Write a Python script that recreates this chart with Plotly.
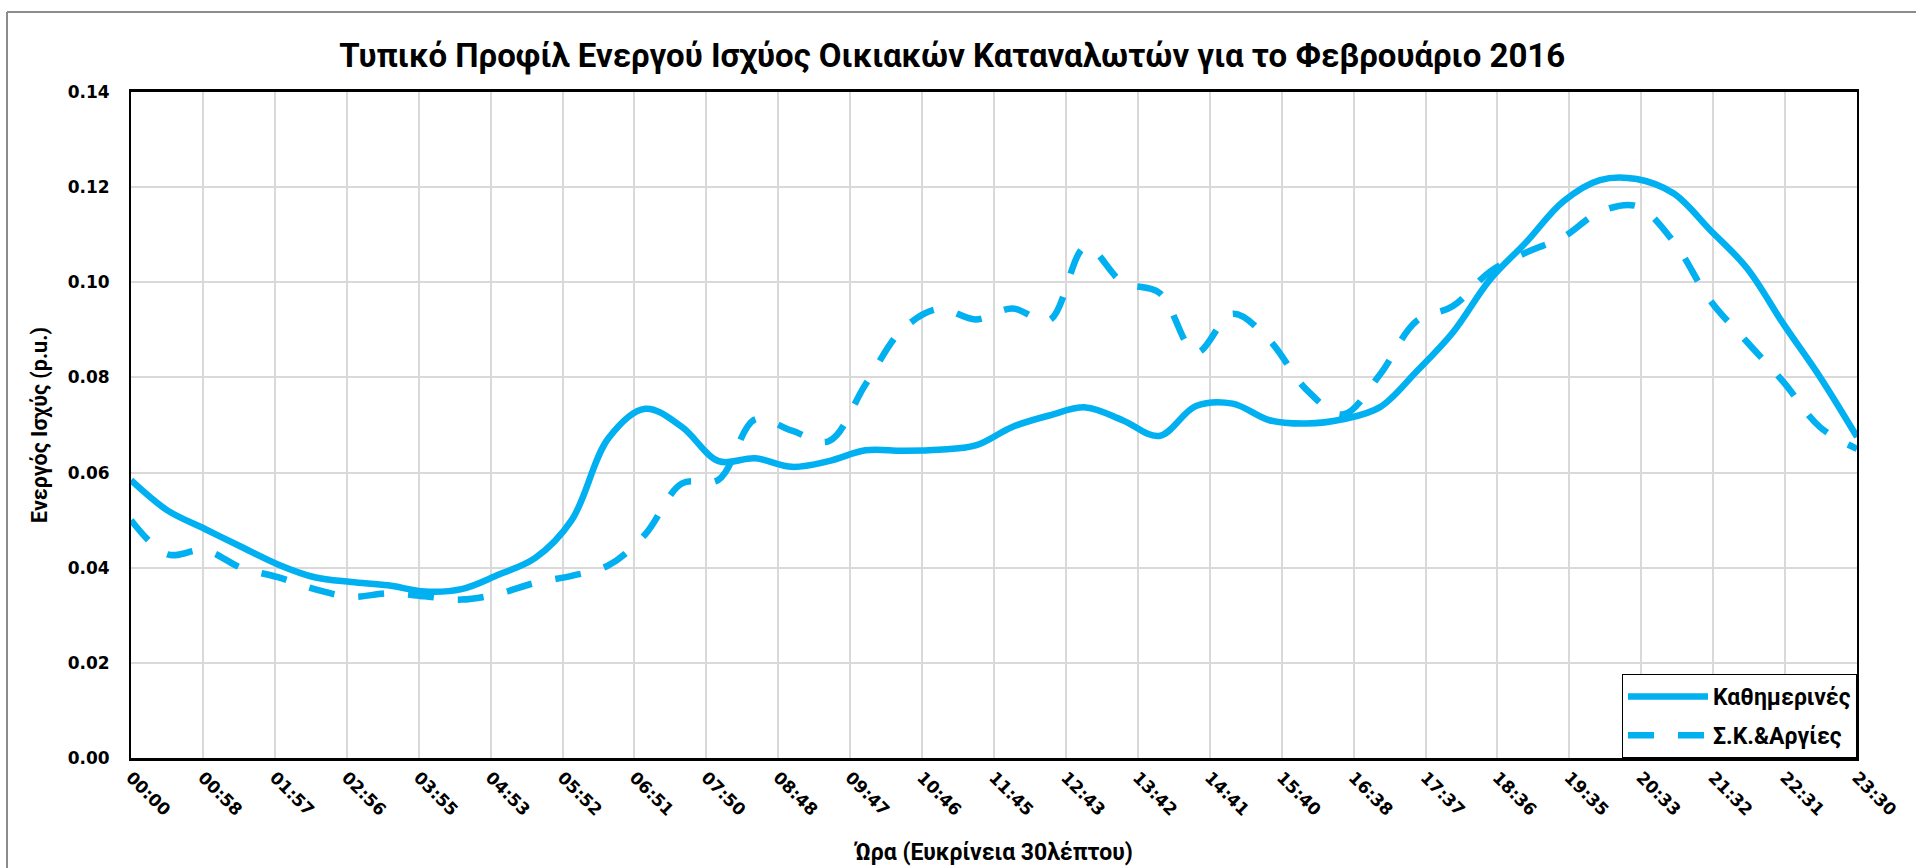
import plotly.graph_objects as go

# Half-hourly time stamps (minutes after midnight)
minutes = [30 * i for i in range(48)]

# Typical active power profile, weekdays (p.u.)
weekdays = [0.0584, 0.0520, 0.0482, 0.0444, 0.0407, 0.0380, 0.0370, 0.0363,
            0.0350, 0.0355, 0.0385, 0.0420, 0.0500, 0.0672, 0.0734, 0.0696,
            0.0624, 0.0630, 0.0612, 0.0624, 0.0647, 0.0646, 0.0648, 0.0657,
            0.0696, 0.0720, 0.0737, 0.0710, 0.0677, 0.0740, 0.0745, 0.0710,
            0.0703, 0.0712, 0.0737, 0.0812, 0.0895, 0.1005, 0.1085, 0.1170,
            0.1215, 0.1217, 0.1187, 0.1110, 0.1030, 0.0912, 0.0800, 0.0675]

# Typical active power profile, weekends & holidays (p.u.)
weekends = [0.0500, 0.0428, 0.0437, 0.0400, 0.0380, 0.0355, 0.0339, 0.0346,
            0.0340, 0.0333, 0.0345, 0.0368, 0.0383, 0.0405, 0.0470, 0.0577,
            0.0585, 0.0712, 0.0688, 0.0666, 0.0785, 0.0900, 0.0944, 0.0922,
            0.0945, 0.0920, 0.1075, 0.1000, 0.0978, 0.0852, 0.0934, 0.0878,
            0.0775, 0.0722, 0.0805, 0.0918, 0.0950, 0.1022, 0.1063, 0.1095,
            0.1148, 0.1160, 0.1086, 0.0962, 0.0875, 0.0790, 0.0695, 0.0650]

# Axis tick labels: 24 equal steps from 00:00 to 23:30
tick_labels = ["00:00", "00:58", "01:57", "02:56", "03:55", "04:53", "05:52",
               "06:51", "07:50", "08:48", "09:47", "10:46", "11:45", "12:43",
               "13:42", "14:41", "15:40", "16:38", "17:37", "18:36", "19:35",
               "20:33", "21:32", "22:31", "23:30"]
x_end = minutes[-1]
tick_vals = [k * x_end / (len(tick_labels) - 1) for k in range(len(tick_labels))]
y_ticks = [0.0, 0.02, 0.04, 0.06, 0.08, 0.10, 0.12, 0.14]

BLUE = "#00B0F0"
TEXT_FONT = "Roboto, Open Sans, sans-serif"
TICK_FONT = "DejaVu Sans, Verdana, sans-serif"

fig = go.Figure()
fig.add_trace(go.Scatter(
    x=minutes, y=weekdays, mode="lines", name="Καθημερινές",
    legendgroup="a",
    line=dict(color=BLUE, width=6.5, shape="spline", smoothing=1.0),
))
fig.add_trace(go.Scatter(
    x=minutes, y=weekends, mode="lines", name="Σ.Κ.&Αργίες",
    legendgroup="b",
    line=dict(color=BLUE, width=6.5, shape="spline", smoothing=1.0,
              dash="26px,24px"),
))

W, H = 1916, 868
L, R, T, B = 131, 59, 92, 110

fig.update_layout(
    template="none",
    width=W, height=H,
    margin=dict(l=L, r=R, t=T, b=B, autoexpand=False),
    paper_bgcolor="white",
    plot_bgcolor="white",
    title=dict(
        text="<b>Τυπικό Προφίλ Ενεργού Ισχύος Οικιακών Καταναλωτών για το Φεβρουάριο 2016</b>",
        font=dict(family=TEXT_FONT, size=33, color="black"),
        x=0.497, xanchor="center",
        y=1 - 55 / H, yanchor="middle", yref="container",
    ),
    xaxis=dict(
        range=[0, x_end],
        tickmode="array", tickvals=tick_vals, ticktext=tick_labels,
        tickangle=45,
        tickfont=dict(family=TICK_FONT, size=17, color="black", weight="bold"),
        showgrid=True, gridcolor="#d9d9d9", gridwidth=1.5,
        showline=True, linecolor="black", linewidth=2.5, mirror=True,
        ticks="", zeroline=False, automargin=False,
        title=dict(text="<b>Ώρα (Ευκρίνεια 30λέπτου)</b>",
                   font=dict(family=TEXT_FONT, size=23, color="black"),
                   standoff=26),
    ),
    yaxis=dict(
        range=[0, 0.14],
        tickmode="array", tickvals=y_ticks, tickformat=".2f",
        tickfont=dict(family=TICK_FONT, size=17, color="black", weight="bold"),
        ticklabelstandoff=16,
        showgrid=True, gridcolor="#d9d9d9", gridwidth=1.5,
        showline=True, linecolor="black", linewidth=2, mirror=True,
        ticks="", zeroline=False, automargin=False,
        title=dict(text="<b>Ενεργός Ισχύς (p.u.)</b>",
                   font=dict(family=TEXT_FONT, size=21.5, color="black"),
                   standoff=14),
    ),
    legend=dict(
        x=1.0, xanchor="right", y=0.0, yanchor="bottom",
        bgcolor="white", bordercolor="black", borderwidth=1,
        font=dict(family=TEXT_FONT, size=23, color="black", weight="bold"),
        itemwidth=80, traceorder="grouped", tracegroupgap=6,
    ),
    showlegend=True,
)

# Outer chart-area frame
px_x = lambda p: (p - L) / (W - L - R)
px_y = lambda p: (H - B - p) / (H - T - B)
fig.add_shape(type="line", xref="paper", yref="paper",
              x0=px_x(7), x1=px_x(W + 10), y0=px_y(12), y1=px_y(12),
              line=dict(color="#8c8c8c", width=2))
fig.add_shape(type="line", xref="paper", yref="paper",
              x0=px_x(7), x1=px_x(7), y0=px_y(12), y1=px_y(H + 10),
              line=dict(color="#8c8c8c", width=2))

fig.write_html("out.html")
